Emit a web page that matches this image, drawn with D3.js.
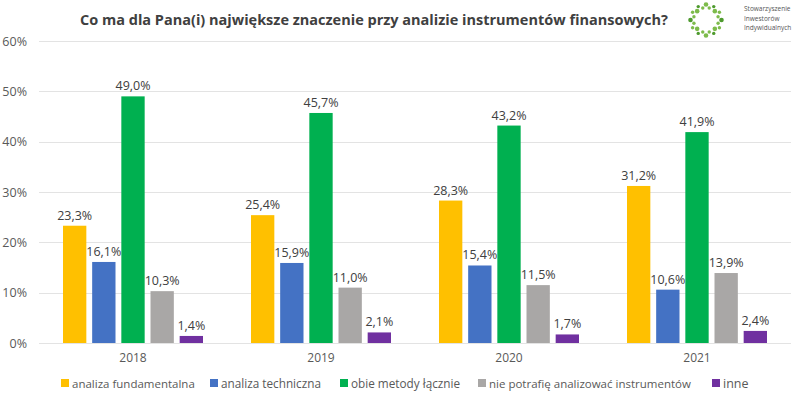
<!DOCTYPE html>
<html>
<head>
<meta charset="utf-8">
<script src="https://cdn.jsdelivr.net/npm/d3@7"></script>
<style>
  body { margin: 0; background: #fff; }
  svg { display: block; font-family: "Open Sans", "Noto Sans", sans-serif; }
</style>
</head>
<body>
<div id="chart"></div>
<script>
const years = ['2018', '2019', '2020', '2021'];
const seriesNames = [
  'analiza fundamentalna',
  'analiza techniczna',
  'obie metody łącznie',
  'nie potrafię analizować instrumentów',
  'inne',
];
const fundamentalna = [23.3, 25.4, 28.3, 31.2];
const techniczna = [16.1, 15.9, 15.4, 10.6];
const obie = [49.0, 45.7, 43.2, 41.9];
const niePotrafie = [10.3, 11.0, 11.5, 13.9];
const inne = [1.4, 2.1, 1.7, 2.4];
const yTicks = [0, 10, 20, 30, 40, 50, 60];
const colors = ['#FFC000', '#4472C4', '#00B050', '#A9A7A6', '#7030A0'];

const allSeries = [fundamentalna, techniczna, obie, niePotrafie, inne];

const width = 800;
const height = 398;
const margin = { top: 41, right: 9, bottom: 55, left: 39 };

const svg = d3
  .select('#chart')
  .append('svg')
  .attr('width', width)
  .attr('height', height);

// shrink font until the text fits the width it has in the original
function fitWidth(node, target, size) {
  let s = size;
  node.style.fontSize = s + 'px';
  while (node.getComputedTextLength() > target && s > 5) {
    s -= 0.25;
    node.style.fontSize = s + 'px';
  }
}

const x0 = d3
  .scaleBand()
  .domain(years)
  .range([margin.left, width - margin.right]);

const x1 = d3
  .scaleBand()
  .domain(seriesNames)
  .range([24, x0.bandwidth() - 24])
  .paddingInner(0.2);

const y = d3
  .scaleLinear()
  .domain([0, 60])
  .range([height - margin.bottom, margin.top]);

const fmt = (v) => d3.format('.1f')(v).replace('.', ',') + '%';

// title
const title = svg
  .append('text')
  .attr('x', 374)
  .attr('y', 25)
  .attr('text-anchor', 'middle')
  .style('font-family', '"Liberation Sans Narrow", "Open Sans", sans-serif')
  .style('font-weight', 'bold')
  .style('fill', '#404040')
  .text('Co ma dla Pana(i) największe znaczenie przy analizie instrumentów finansowych?');
fitWidth(title.node(), 596, 20);

// gridlines
svg
  .append('g')
  .selectAll('line')
  .data(yTicks)
  .join('line')
  .attr('x1', margin.left)
  .attr('x2', width - margin.right)
  .attr('y1', (d) => Math.round(y(d)) + 0.5)
  .attr('y2', (d) => Math.round(y(d)) + 0.5)
  .attr('stroke', '#e3e3e3')
  .attr('stroke-width', 1);

// y labels
svg
  .append('g')
  .selectAll('text')
  .data(yTicks)
  .join('text')
  .attr('x', 27)
  .attr('y', (d) => y(d) + 4.5)
  .attr('text-anchor', 'end')
  .style('font-size', '12.5px')
  .style('fill', '#595959')
  .text((d) => d + '%');

// bars
const groups = svg
  .append('g')
  .selectAll('g')
  .data(years)
  .join('g')
  .attr('transform', (d) => `translate(${x0(d)},0)`);

groups.each(function (year, i) {
  const g = d3.select(this);
  const vals = seriesNames.map((s, k) => ({ s, k, v: allSeries[k][i] }));
  g.selectAll('rect')
    .data(vals)
    .join('rect')
    .attr('x', (d) => x1(d.s))
    .attr('width', x1.bandwidth())
    .attr('y', (d) => y(d.v))
    .attr('height', (d) => y(0) - y(d.v))
    .attr('fill', (d) => colors[d.k]);
  g.selectAll('text')
    .data(vals)
    .join('text')
    .attr('x', (d) => x1(d.s) + x1.bandwidth() / 2)
    .attr('y', (d) => y(d.v) - 6)
    .attr('text-anchor', 'middle')
    .style('font-size', '12.5px')
    .style('fill', '#404040')
    .text((d) => fmt(d.v));
});

// x labels
svg
  .append('g')
  .selectAll('text')
  .data(years)
  .join('text')
  .attr('x', (d) => x0(d) + x0.bandwidth() / 2)
  .attr('y', 362)
  .attr('text-anchor', 'middle')
  .style('font-size', '12px')
  .style('fill', '#595959')
  .text((d) => d);

// legend
const legendX = [61, 210, 340, 478, 712];
const legendW = [124, 101, 110, 205, 26];
const legend = svg
  .append('g')
  .selectAll('g')
  .data(seriesNames)
  .join('g')
  .attr('transform', (d, i) => `translate(${legendX[i]},383)`);

legend
  .append('rect')
  .attr('x', 0)
  .attr('y', -4)
  .attr('width', 8)
  .attr('height', 8)
  .attr('fill', (d, i) => colors[i]);

legend
  .append('text')
  .attr('x', 11)
  .attr('y', 4.5)
  .style('fill', '#595959')
  .text((d) => d)
  .each(function (d, i) {
    fitWidth(this, legendW[i], 13);
  });

// logo
const logo = svg.append('g').attr('transform', 'translate(706,20)');
const dots = d3.range(24);
logo
  .selectAll('circle')
  .data(dots)
  .join('circle')
  .attr('cx', (d) => Math.cos((d / 24) * 2 * Math.PI) * (d % 2 ? 12.5 : 15.5))
  .attr('cy', (d) => Math.sin((d / 24) * 2 * Math.PI) * (d % 2 ? 12.5 : 15.5))
  .attr('r', (d) => (d % 3 === 0 ? 2.3 : 1.7))
  .attr('fill', (d) => (d % 4 === 0 ? '#4e9a2e' : '#7dbb4b'));

const logoText = ['Stowarzyszenie', 'Inwestorów', 'Indywidualnych'];
svg
  .append('g')
  .selectAll('text')
  .data(logoText)
  .join('text')
  .attr('x', 744)
  .attr('y', (d, i) => 11 + i * 9.5)
  .style('font-size', '6.5px')
  .style('fill', '#555')
  .text((d) => d);
</script>
</body>
</html>
